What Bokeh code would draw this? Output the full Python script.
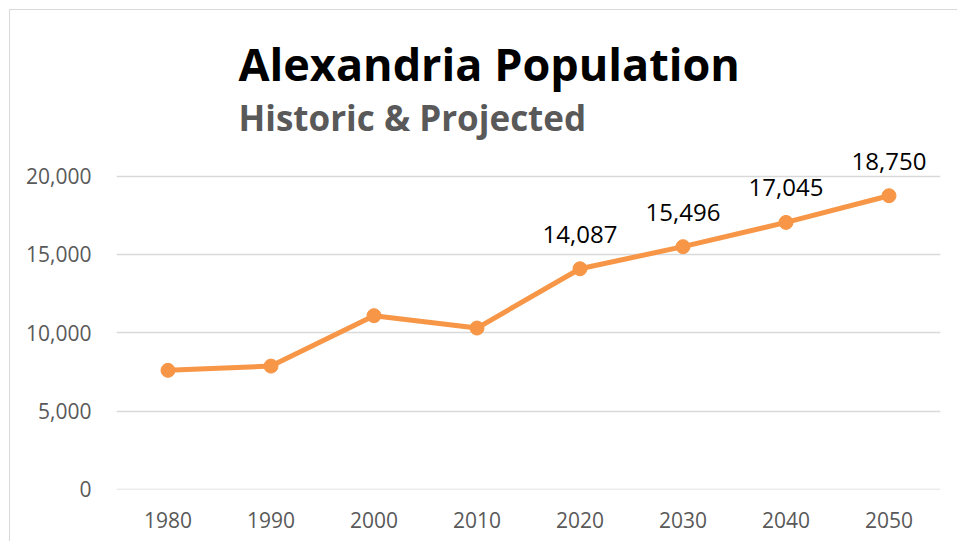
from bokeh.plotting import figure
from bokeh.models import ColumnDataSource, LabelSet, Label, NumeralTickFormatter, FixedTicker
from bokeh.core.properties import value
from bokeh.embed import file_html
from bokeh.resources import INLINE

years = ["1980", "1990", "2000", "2010", "2020", "2030", "2040", "2050"]
population = [7600, 7870, 11090, 10300, 14087, 15496, 17045, 18750]
labeled_years = ["2020", "2030", "2040", "2050"]
y_ticks = [0, 5000, 10000, 15000, 20000]

title_text = "Alexandria Population"
subtitle_text = "Historic & Projected"

ORANGE = "#F79646"
GRID = "#d9d9d9"
TICK_TXT = "#595959"
FONT = "Open Sans"

src = ColumnDataSource(dict(x=years, y=population))
lab = [(x, y) for x, y in zip(years, population) if x in labeled_years]
lab_src = ColumnDataSource(dict(x=[a for a, _ in lab], y=[b for _, b in lab],
                                t=[f"{b:,}" for _, b in lab]))

# frame extends up to the top of the figure so that titles and labels are not clipped
p = figure(x_range=years, y_range=(-10, 30578), width=948, height=532,
           output_backend="svg", toolbar_location=None,
           min_border_left=106, min_border_right=18, min_border_top=0, min_border_bottom=53)
p.styles = {"margin-left": "9px", "margin-top": "9px",
            "border-left": "1px solid #d9d9d9", "border-top": "1px solid #d9d9d9"}
p.x_range.range_padding = 0
p.outline_line_color = None
p.background_fill_color = "white"
p.border_fill_color = "white"

p.line("x", "y", source=src, line_color=ORANGE, line_width=5)
p.scatter("x", "y", source=src, size=14, fill_color=ORANGE, line_color=ORANGE)

labels = LabelSet(x="x", y="y", text="t", source=lab_src, text_align="center",
                  text_baseline="alphabetic", y_offset=26, text_font=value(FONT),
                  text_font_size="24px", text_color="black")
p.add_layout(labels)

p.yaxis.ticker = FixedTicker(ticks=y_ticks)
p.yaxis.formatter = NumeralTickFormatter(format="0,0")
for ax in (p.xaxis, p.yaxis):
    ax.axis_line_color = None
    ax.major_tick_line_color = None
    ax.minor_tick_line_color = None
    ax.major_label_text_font = FONT
    ax.major_label_text_font_size = "21px"
    ax.major_label_text_color = TICK_TXT
p.yaxis.major_label_standoff = 19
p.xaxis.major_label_standoff = 16

p.xgrid.grid_line_color = None
p.ygrid.grid_line_color = GRID
p.ygrid.grid_line_width = 1.5

p.add_layout(Label(x=122, y=426, x_units="screen", y_units="screen", text=title_text,
                   text_font=FONT, text_font_style="bold", text_font_size="45px",
                   text_color="black", text_baseline="alphabetic"))
p.add_layout(Label(x=122, y=372, x_units="screen", y_units="screen", text=subtitle_text,
                   text_font=FONT, text_font_style="bold", text_font_size="35px",
                   text_color=TICK_TXT, text_baseline="alphabetic"))

open("out.html", "w").write(file_html(p, INLINE))
